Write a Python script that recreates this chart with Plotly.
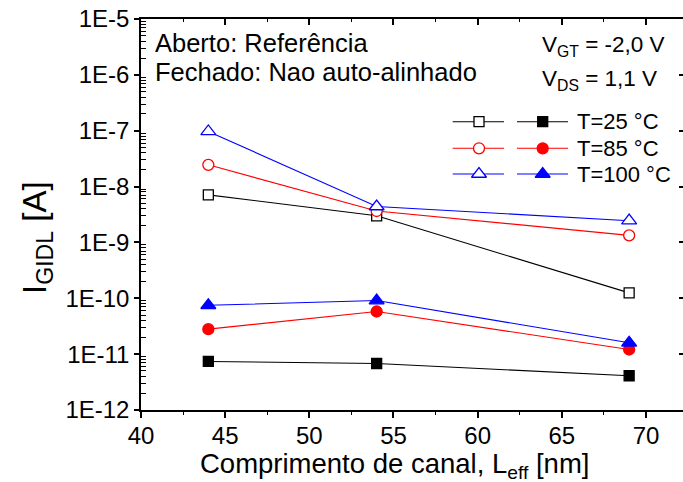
import plotly.graph_objects as go

# ---------------- data ----------------
L_eff = [44, 54, 69]
temp_labels = ["T=25 °C", "T=85 °C", "T=100 °C"]
colors = ["#000000", "#FF0000", "#0000FF"]

# Aberto (open symbols): Referência
ref_25 = [7.1e-9, 3.0e-9, 1.25e-10]
ref_85 = [2.45e-8, 3.65e-9, 1.34e-9]
ref_100 = [9.7e-8, 4.4e-9, 2.45e-9]
# Fechado (filled symbols): Nao auto-alinhado
nal_25 = [7.4e-12, 6.8e-12, 4.1e-12]
nal_85 = [2.8e-11, 5.8e-11, 1.21e-11]
nal_100 = [7.5e-11, 9.1e-11, 1.6e-11]

x_ticks = [40, 45, 50, 55, 60, 65, 70]
y_ticks = [1e-12, 1e-11, 1e-10, 1e-9, 1e-8, 1e-7, 1e-6, 1e-5]
y_ticktext = ["1E-12", "1E-11", "1E-10", "1E-9", "1E-8", "1E-7", "1E-6", "1E-5"]
y_minor = [m * 10.0 ** e for e in range(-12, -5) for m in range(2, 10)]

# ---------------- layout geometry ----------------
W, H = 683, 482
ML, MR, MT, MB = 141, 0, 19, 72
PW, PH = W - ML - MR, H - MT - MB
X_RANGE = [40, 72.2]
FONT = "Liberation Sans, Arial, sans-serif"


def px_x(p):
    return (p - ML) / PW


def px_y(p):
    return (H - MB - p) / PH


fig = go.Figure()

symbols = ["square", "circle", "triangle-up"]
sizes = [10, 11, 13]
ref_series = [ref_25, ref_85, ref_100]
nal_series = [nal_25, nal_85, nal_100]

for i in range(3):
    fig.add_trace(go.Scatter(
        x=L_eff, y=ref_series[i], mode="lines+markers", name=temp_labels[i] + " ref",
        line=dict(color=colors[i], width=1.1),
        marker=dict(symbol=symbols[i], size=sizes[i], color="white",
                    line=dict(color=colors[i], width=1.3)),
        showlegend=False))
for i in range(3):
    fig.add_trace(go.Scatter(
        x=L_eff, y=nal_series[i], mode="lines+markers", name=temp_labels[i],
        line=dict(color=colors[i], width=1.1),
        marker=dict(symbol=symbols[i], size=sizes[i], color=colors[i],
                    line=dict(color=colors[i], width=1.3)),
        showlegend=False))

# ---------------- custom legend (pixel-coordinate overlay axes) ----------------
leg_rows = [121.7, 148.3, 174.0]
col1 = [452.7, 479.0, 504.0]
col2 = [517.0, 542.7, 568.0]
for i in range(3):
    for col, filled in ((col1, False), (col2, True)):
        fig.add_trace(go.Scatter(
            x=[col[0], col[2]], y=[leg_rows[i], leg_rows[i]], mode="lines",
            line=dict(color=colors[i], width=1.1), xaxis="x4", yaxis="y4",
            showlegend=False, hoverinfo="skip"))
        fig.add_trace(go.Scatter(
            x=[col[1]], y=[leg_rows[i]], mode="markers",
            marker=dict(symbol=symbols[i], size=sizes[i],
                        color=colors[i] if filled else "white",
                        line=dict(color=colors[i], width=1.3)),
            xaxis="x4", yaxis="y4", showlegend=False, hoverinfo="skip"))


def ann(x, y, text, size, xanchor="left", angle=0):
    return dict(x=px_x(x), y=px_y(y), xref="paper", yref="paper", text=text,
                showarrow=False, xanchor=xanchor, yanchor="middle", textangle=angle,
                font=dict(size=size, color="black", family=FONT))


annotations = [ann(575, leg_rows[i], temp_labels[i], 22) for i in range(3)]
annotations += [
    ann(153, 43, "Aberto: Referência", 25.5),
    ann(153, 72, "Fechado: Nao auto-alinhado", 25.5),
    ann(540, 46, "V<sub>GT</sub> = -2,0 V", 22.5),
    ann(540, 80, "V<sub>DS</sub> = 1,1 V", 22.5),
    ann(394, 465, "Comprimento de canal, L<sub>eff</sub> [nm]", 27.5, xanchor="center"),
    ann(37, 238, "I<sub>GIDL</sub> [A]", 33, xanchor="center", angle=-90),
]

axis_common = dict(showgrid=False, zeroline=False, linecolor="black", linewidth=1.5,
                   tickcolor="black", tickwidth=1.5)

fig.update_layout(
    width=W, height=H, margin=dict(l=ML, r=MR, t=MT, b=MB),
    plot_bgcolor="white", paper_bgcolor="white",
    font=dict(family=FONT, color="black"),
    showlegend=False,
    annotations=annotations,
    xaxis=dict(range=X_RANGE, tickvals=x_ticks, ticks="outside", ticklen=6, showline=True,
               tickfont=dict(size=24, family=FONT, color="black"), ticklabelstandoff=-3,
               minor=dict(ticks="outside", ticklen=3, dtick=2.5, tick0=40,
                          tickcolor="black", tickwidth=1.3),
               **axis_common),
    xaxis2=dict(range=X_RANGE, overlaying="x", side="top", anchor="y", tickvals=x_ticks,
                ticks="inside", ticklen=6, showline=True, showticklabels=False,
                minor=dict(ticks="inside", ticklen=3, dtick=2.5, tick0=40,
                           tickcolor="black", tickwidth=1.3),
                **axis_common),
    yaxis=dict(type="log", range=[-12, -5], tickvals=y_ticks, ticktext=y_ticktext,
               ticks="outside", ticklen=5, showline=True,
               tickfont=dict(size=24, family=FONT, color="black"),
               minor=dict(ticks="inside", ticklen=5, tickvals=y_minor,
                          tickcolor="black", tickwidth=1.2),
               **axis_common),
    yaxis3=dict(type="log", range=[-12, -5], overlaying="y", side="right", anchor="x",
                tickvals=y_ticks, ticks="inside", ticklen=4, showline=False,
                showticklabels=False, **axis_common),
    xaxis4=dict(range=[ML, W - MR], overlaying="x", visible=False, fixedrange=True),
    yaxis4=dict(range=[H - MB, MT], overlaying="y", visible=False, fixedrange=True),
)

# invisible traces so the overlay tick axes are rendered
fig.add_trace(go.Scatter(x=[None], y=[None], xaxis="x2", yaxis="y", showlegend=False))
fig.add_trace(go.Scatter(x=[None], y=[None], xaxis="x", yaxis="y3", showlegend=False))

fig.write_html("out.html")
